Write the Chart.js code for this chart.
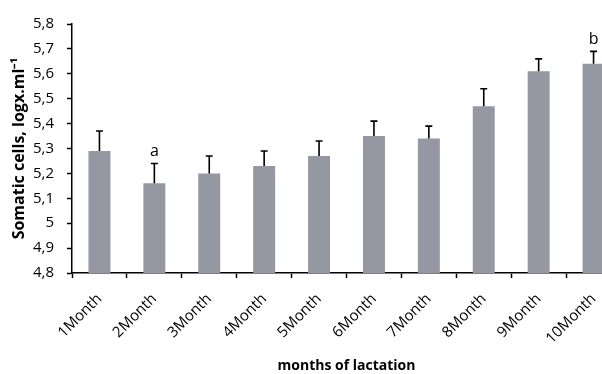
<!DOCTYPE html>
<html lang="en">
<head>
  <meta charset="UTF-8">
  <title>Somatic cells</title>
  <script src="https://cdn.jsdelivr.net/npm/chart.js"></script>
  <style>
    body {
      margin: 0;
      background: #fff;
      overflow: hidden;
      width: 602px;
      height: 374px;
    }
    canvas {
      display: block;
    }
  </style>
</head>
<body>

  <canvas id="grafico" width="621" height="374"></canvas>

  <script>
    const meses = ['1Month', '2Month', '3Month', '4Month', '5Month', '6Month', '7Month', '8Month', '9Month', '10Month'];
    const celulas = [5.29, 5.16, 5.20, 5.23, 5.27, 5.35, 5.34, 5.47, 5.61, 5.64];
    const erros = [0.08, 0.08, 0.07, 0.06, 0.06, 0.06, 0.05, 0.07, 0.05, 0.05];
    const letras = ['', 'a', '', '', '', '', '', '', '', 'b'];
    const rotulosY = ['4,8', '4,9', '5', '5,1', '5,2', '5,3', '5,4', '5,5', '5,6', '5,7', '5,8'];

    const fonte = "'Open Sans', 'Liberation Sans', sans-serif";

    // barras de erro (so para cima) e letras
    const errorBars = {
      id: 'errorBars',
      afterDatasetsDraw(chart) {
        const ctx = chart.ctx;
        const y = chart.scales.y;
        const meta = chart.getDatasetMeta(0);
        ctx.save();
        ctx.strokeStyle = '#000';
        ctx.lineWidth = 1.6;
        meta.data.forEach((bar, i) => {
          const topo = y.getPixelForValue(celulas[i] + erros[i]);
          ctx.beginPath();
          ctx.moveTo(bar.x, bar.y);
          ctx.lineTo(bar.x, topo);
          ctx.moveTo(bar.x - 3.5, topo);
          ctx.lineTo(bar.x + 3.5, topo);
          ctx.stroke();
          if (letras[i]) {
            ctx.fillStyle = '#000';
            ctx.font = '16px ' + fonte;
            ctx.textAlign = 'center';
            ctx.textBaseline = 'bottom';
            ctx.fillText(letras[i], bar.x, topo - 4);
          }
        });
        ctx.restore();
      }
    };

    const ctx = document.getElementById('grafico').getContext('2d');
    new Chart(ctx, {
      type: 'bar',
      data: {
        labels: meses,
        datasets: [{
          data: celulas,
          backgroundColor: '#9598a2',
          borderWidth: 0,
          categoryPercentage: 1,
          barPercentage: 0.4
        }]
      },
      plugins: [errorBars],
      options: {
        responsive: false,
        animation: false,
        layout: { padding: { top: 24, left: 0, right: 0, bottom: 0 } },
        plugins: {
          legend: { display: false },
          tooltip: { enabled: false }
        },
        scales: {
          x: {
            grid: {
              offset: true,
              drawOnChartArea: false,
              color: '#000',
              tickLength: 5,
              tickWidth: 1.5
            },
            border: { color: '#000', width: 1.5 },
            ticks: {
              color: '#000',
              maxRotation: 45,
              minRotation: 45,
              padding: 12,
              font: { family: fonte, size: 15 }
            },
            title: {
              display: true,
              text: 'months of lactation',
              color: '#000',
              font: { family: fonte, size: 14, weight: 'bold' },
              padding: { top: 4, bottom: 0 }
            },
            afterFit(scale) { scale.height = 101; }
          },
          y: {
            min: 4.8,
            max: 5.8,
            grid: {
              drawOnChartArea: false,
              color: '#000',
              tickLength: 5,
              tickWidth: 1.5
            },
            border: { color: '#000', width: 1.5 },
            ticks: {
              stepSize: 0.1,
              color: '#000',
              padding: 13,
              font: { family: fonte, size: 15 },
              callback: function(valor, i) { return rotulosY[i]; }
            },
            title: {
              display: true,
              text: 'Somatic cells, logx.ml⁻¹',
              color: '#000',
              font: { family: fonte, size: 16, weight: 'bold' },
              padding: { top: 10, bottom: 0 }
            },
            afterFit(scale) { scale.width = 72; }
          }
        }
      }
    });
  </script>

</body>
</html>
